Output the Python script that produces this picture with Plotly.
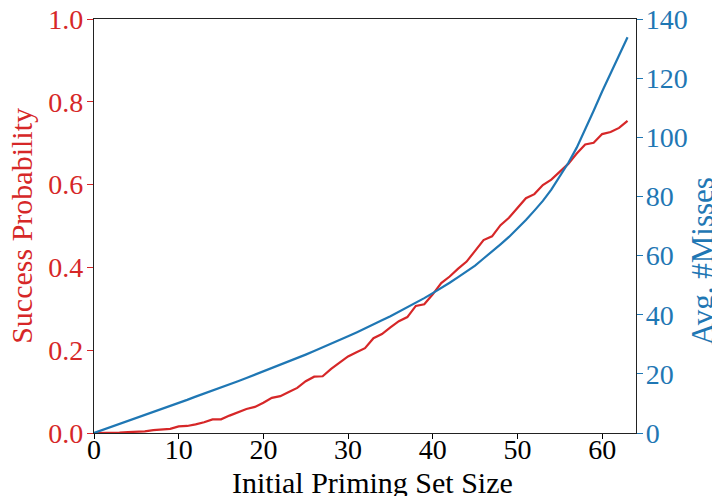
import plotly.graph_objects as go

set_size = list(range(64))

success_prob = [0.0, 0.0, 0.001, 0.001, 0.002, 0.003, 0.004, 0.007, 0.009, 0.010,
                0.016, 0.017, 0.021, 0.026, 0.033, 0.033, 0.042, 0.050, 0.058, 0.063,
                0.073, 0.085, 0.089, 0.099, 0.109, 0.125, 0.136, 0.137, 0.155, 0.170,
                0.185, 0.195, 0.205, 0.229, 0.239, 0.255, 0.270, 0.280, 0.307, 0.311,
                0.335, 0.362, 0.378, 0.397, 0.414, 0.440, 0.466, 0.475, 0.502, 0.520,
                0.543, 0.567, 0.577, 0.599, 0.612, 0.630, 0.650, 0.675, 0.697, 0.701,
                0.722, 0.727, 0.737, 0.754]

avg_misses = [0.0, 1.0, 2.0, 3.0, 4.0, 5.0, 6.1, 7.1, 8.1, 9.2,
              10.2, 11.2, 12.3, 13.3, 14.4, 15.4, 16.5, 17.5, 18.6, 19.7,
              20.8, 21.9, 23.0, 24.2, 25.3, 26.5, 27.7, 28.9, 30.1, 31.4,
              32.7, 34.0, 35.3, 36.7, 38.1, 39.5, 41.0, 42.5, 44.0, 45.6,
              47.3, 49.0, 50.8, 52.7, 54.6, 56.6, 59.0, 61.3, 63.8, 66.3,
              69.0, 72.0, 75.2, 78.5, 82.3, 86.7, 91.3, 96.5, 102.5, 109.0,
              115.5, 121.6, 127.7, 133.8]

x_ticks = [0, 10, 20, 30, 40, 50, 60]
y_ticks = [0.0, 0.2, 0.4, 0.6, 0.8, 1.0]
y2_ticks = [0, 20, 40, 60, 80, 100, 120, 140]

RED = "#d62728"
BLUE = "#1f77b4"
SPINE = "#222222"
FONT = "Liberation Serif"
FS = 28
TFS = 30

fig = go.Figure()
fig.add_trace(go.Scatter(x=set_size, y=success_prob, mode="lines",
                         line=dict(color=RED, width=2.2), yaxis="y", showlegend=False))
fig.add_trace(go.Scatter(x=set_size, y=avg_misses, mode="lines",
                         line=dict(color=BLUE, width=2.2), yaxis="y2", showlegend=False))

fig.update_layout(
    width=720, height=496,
    margin=dict(l=86, r=92, t=11, b=71, autoexpand=False),
    plot_bgcolor="white", paper_bgcolor="white",
    font=dict(family=FONT, size=FS, color="black"),
    xaxis=dict(range=[0, 64], tickvals=x_ticks, ticks="outside", ticklen=5,
               tickwidth=1.3, tickcolor="black", showline=True, linecolor=SPINE,
               linewidth=1.2, mirror=True, showgrid=False, zeroline=False,
               automargin=False, ticklabeloverflow="allow", ticklabelstandoff=-14,
               tickfont=dict(family=FONT, size=FS, color="black")),
    yaxis=dict(range=[0, 1], tickvals=y_ticks, tickformat=".1f", ticks="outside",
               ticklen=6, tickwidth=1.3, tickcolor=RED, showline=True,
               linecolor=SPINE, linewidth=1.2, showgrid=False, zeroline=False,
               automargin=False, ticklabeloverflow="allow", ticklabelstandoff=-2,
               tickfont=dict(family=FONT, size=FS, color=RED)),
    yaxis2=dict(range=[0, 140], tickvals=y2_ticks, overlaying="y", side="right",
                ticks="outside", ticklen=6, tickwidth=1.3, tickcolor=BLUE,
                showline=True, linecolor=SPINE, linewidth=1.2, showgrid=False,
                zeroline=False, automargin=False, ticklabeloverflow="allow",
                ticklabelstandoff=-3,
                tickfont=dict(family=FONT, size=FS, color=BLUE)),
    annotations=[
        dict(text="Initial Priming Set Size", xref="paper", yref="paper",
             x=0.513, y=-0.12, xanchor="center", yanchor="middle", showarrow=False,
             font=dict(family=FONT, size=TFS, color="black")),
        dict(text="Success Probability", xref="paper", yref="paper",
             x=-0.135, y=0.5, xanchor="center", yanchor="middle", textangle=-90,
             showarrow=False, font=dict(family=FONT, size=TFS, color=RED)),
        dict(text="Avg. #Misses", xref="paper", yref="paper",
             x=1.122, y=0.415, xanchor="center", yanchor="middle", textangle=-90,
             showarrow=False, font=dict(family=FONT, size=31, color=BLUE)),
    ],
)

fig.write_html("out.html")
